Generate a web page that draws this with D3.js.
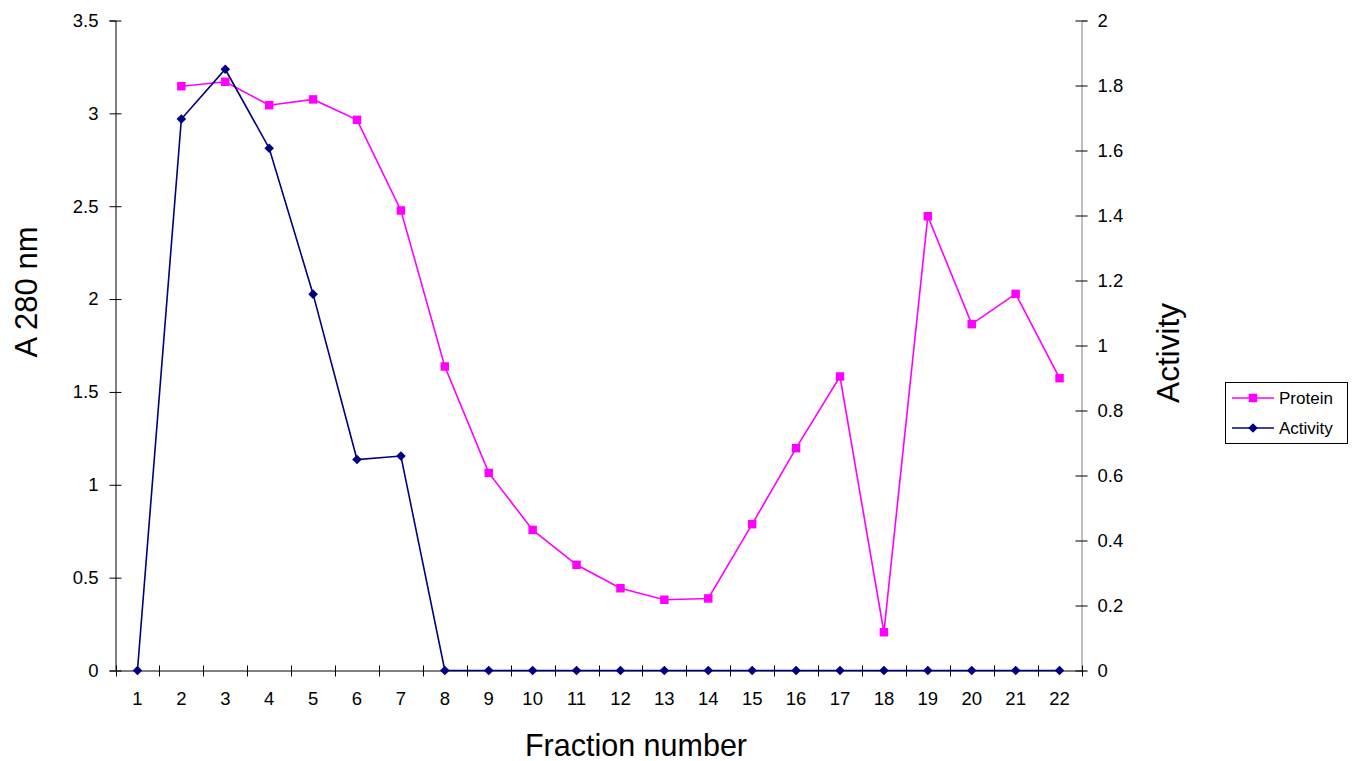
<!DOCTYPE html>
<html><head><meta charset="utf-8">
<script src="https://cdn.jsdelivr.net/npm/d3@7"></script>
<style>body{margin:0;background:#fff;} svg{display:block;font-family:"Liberation Sans",Arial,sans-serif;}</style>
</head><body><svg id="c" width="1359" height="761"></svg>
<script>
const fractions = ["1","2","3","4","5","6","7","8","9","10","11","12","13","14","15","16","17","18","19","20","21","22"];
const protein = [null,3.146,3.17,3.044,3.075,2.965,2.477,1.637,1.064,0.757,0.569,0.443,0.381,0.388,0.788,1.197,1.583,0.206,2.446,1.865,2.028,1.574];
const activity = [0,1.697,1.850,1.607,1.158,0.649,0.660,0,0,0,0,0,0,0,0,0,0,0,0,0,0,0];
const leftTicks = [0,0.5,1,1.5,2,2.5,3,3.5];
const rightTicks = [0,0.2,0.4,0.6,0.8,1,1.2,1.4,1.6,1.8,2];

const svg = d3.select("#c");
const L = 115.5, R = 1081.5, T = 20.5, B = 670.5;
const x = d3.scaleBand().domain(fractions).range([L, R]);
const yL = d3.scaleLinear().domain([0, 3.5]).range([B, T]);
const yR = d3.scaleLinear().domain([0, 2]).range([B, T]);
const cx = d => x(d) + x.bandwidth() / 2;

// left axis
const gL = svg.append("g").attr("transform", `translate(${L},0)`)
  .call(d3.axisLeft(yL).tickValues(leftTicks).tickSize(6).tickPadding(11).tickFormat(d3.format("")));
gL.select(".domain").attr("stroke", "#000");
gL.selectAll(".tick line").attr("x1", -6).attr("x2", 6).attr("stroke", "#000");
gL.selectAll(".tick text").attr("font-size", 18.5).attr("fill", "#000").attr("font-family", "Liberation Sans, Arial");

// right axis
const gR = svg.append("g").attr("transform", `translate(${R},0)`)
  .call(d3.axisRight(yR).tickValues(rightTicks).tickSize(6).tickPadding(10).tickFormat(d3.format("")));
gR.select(".domain").attr("stroke", "#808080");
gR.selectAll(".tick line").attr("x1", -6).attr("x2", 6).attr("stroke", "#000");
gR.selectAll(".tick text").attr("font-size", 18.5).attr("fill", "#000").attr("font-family", "Liberation Sans, Arial");

// x axis (labels at centers, ticks at boundaries)
const gX = svg.append("g").attr("transform", `translate(0,${B})`)
  .call(d3.axisBottom(x).tickSize(0).tickPadding(21));
gX.select(".domain").attr("stroke", "#000");
gX.selectAll(".tick text").attr("font-size", 18.5).attr("fill", "#000").attr("font-family", "Liberation Sans, Arial");
const bounds = d3.range(fractions.length + 1).map(i => L + i * x.step());
gX.selectAll("line.bt").data(bounds).join("line").attr("class", "bt")
  .attr("x1", d => Math.round(d) + 0.5).attr("x2", d => Math.round(d) + 0.5)
  .attr("y1", -5).attr("y2", 6).attr("stroke", "#000");

// lines
const protColor = "#FF00FF", actColor = "#000080";
const protData = fractions.map((f, i) => ({f, v: protein[i]})).filter(d => d.v != null);
const actData = fractions.map((f, i) => ({f, v: activity[i]}));

svg.append("path").datum(protData)
  .attr("d", d3.line().x(d => cx(d.f)).y(d => yL(d.v)))
  .attr("fill", "none").attr("stroke", protColor).attr("stroke-width", 1.6);
svg.append("path").datum(actData)
  .attr("d", d3.line().x(d => cx(d.f)).y(d => yR(d.v)))
  .attr("fill", "none").attr("stroke", actColor).attr("stroke-width", 1.6);

const sq = d3.symbol().type(d3.symbolSquare).size(72);
const dia = d3.symbol().type(d3.symbolSquare).size(46);
svg.selectAll("path.pm").data(protData).join("path").attr("class", "pm")
  .attr("d", sq).attr("transform", d => `translate(${cx(d.f)},${yL(d.v)})`).attr("fill", protColor);
svg.selectAll("path.am").data(actData).join("path").attr("class", "am")
  .attr("d", dia).attr("transform", d => `translate(${cx(d.f)},${yR(d.v)}) rotate(45)`).attr("fill", actColor);

// axis titles
svg.append("text").attr("transform", "translate(37,292) rotate(-90)").attr("text-anchor", "middle")
  .attr("font-size", 31).attr("fill", "#000").text("A 280 nm");
svg.append("text").attr("transform", "translate(1179,353) rotate(-90)").attr("text-anchor", "middle")
  .attr("font-size", 31.5).attr("fill", "#000").text("Activity");
svg.append("text").attr("x", 636).attr("y", 756).attr("text-anchor", "middle")
  .attr("font-size", 30.5).attr("fill", "#000").text("Fraction number");

// legend
const lg = svg.append("g");
lg.append("rect").attr("x", 1225.5).attr("y", 382.5).attr("width", 122).attr("height", 61)
  .attr("fill", "#fff").attr("stroke", "#000").attr("stroke-width", 1);
const items = [{name: "Protein", c: protColor, s: sq, r: 0}, {name: "Activity", c: actColor, s: dia, r: 45}];
items.forEach((it, i) => {
  const yy = 398 + i * 30;
  lg.append("line").attr("x1", 1232).attr("x2", 1274).attr("y1", yy).attr("y2", yy).attr("stroke", it.c).attr("stroke-width", 1.6);
  lg.append("path").attr("d", it.s).attr("transform", `translate(1253,${yy}) rotate(${it.r})`).attr("fill", it.c);
  lg.append("text").attr("x", 1279).attr("y", yy + 6).attr("font-size", 17).attr("fill", "#000").text(it.name);
});
</script></body></html>
